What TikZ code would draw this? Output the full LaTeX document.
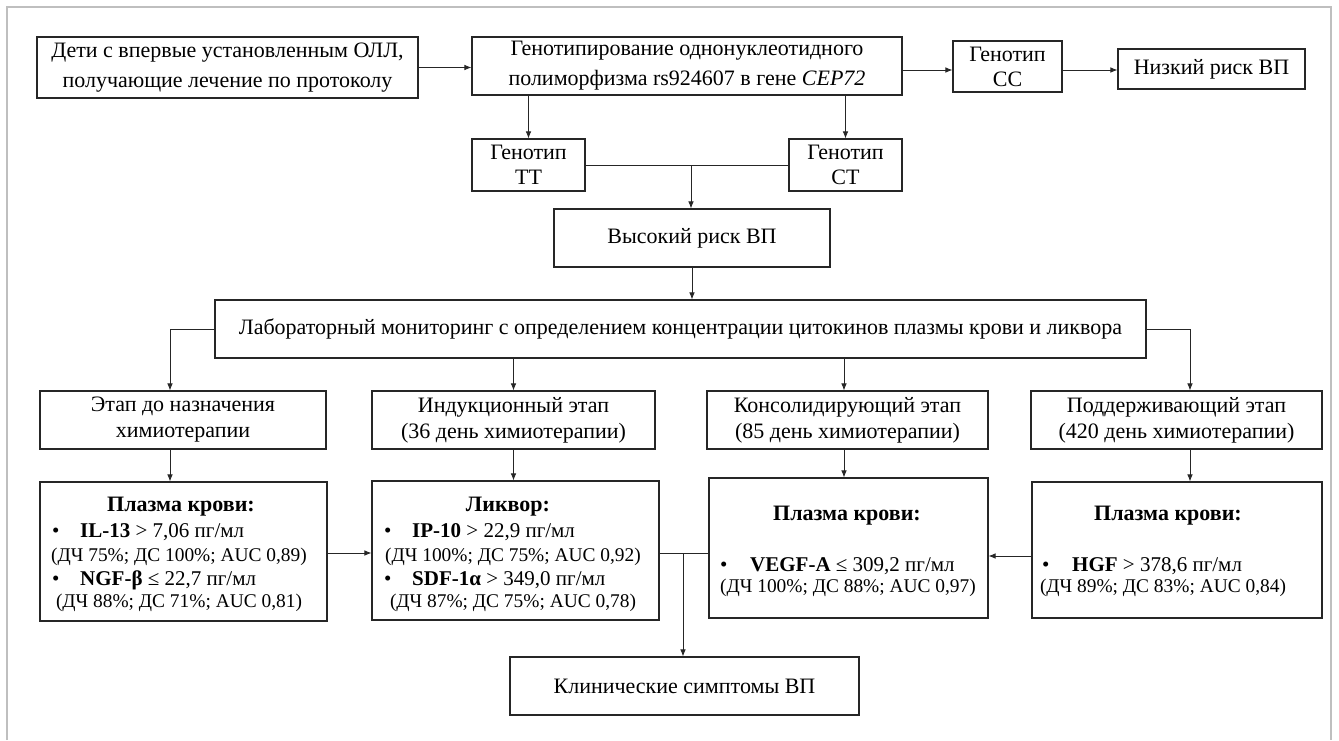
\documentclass[tikz,border=0pt]{standalone}
\usepackage{fontspec}
\setmainfont{Liberation Serif}
\usetikzlibrary{arrows.meta}
\tikzset{
  box/.style={draw=black!85, line width=1.1pt, inner sep=0pt, align=center},
  fa/.style={font=\fontsize{22}{30}\selectfont},
  fb/.style={font=\fontsize{22}{26}\selectfont},
  fc/.style={font=\fontsize{22}{25}\selectfont},
  arr/.style={-{Latex[length=7pt,width=5.5pt]}, line width=0.8pt, draw=black!85},
  ln/.style={line width=0.8pt, draw=black!85},
  dh/.style={inner sep=0pt, font=\fontsize{22}{26}\selectfont},
  dt/.style={inner sep=0pt, font=\fontsize{21}{25}\selectfont},
  dp/.style={inner sep=0pt, font=\fontsize{19.4}{23}\selectfont},
}
\begin{document}
\begin{tikzpicture}[x=1pt,y=-1pt]
\fill[white] (0,0) rectangle (1339,740);
\useasboundingbox (0,0) rectangle (1339,740);
\draw[black!25, line width=1.5pt] (7,740) -- (7,7) -- (1331,7) -- (1331,740);

% top row
\node[box, fa, minimum width=381pt, minimum height=61pt] (b1) at (227.5,67.5)
  {Дети с впервые установленным ОЛЛ,\\получающие лечение по протоколу};
\node[box, fa, minimum width=430pt, minimum height=58pt] (b2) at (687,66)
  {Генотипирование однонуклеотидного\\полиморфизма rs924607 в гене \textit{CEP72}};
\node[box, fc, minimum width=109pt, minimum height=51pt] (cc) at (1007.5,66.5)
  {Генотип\\CC};
\node[box, fc, minimum width=187pt, minimum height=40pt] (nz) at (1211.5,69)
  {Низкий риск ВП};

\node[box, fc, minimum width=113pt, minimum height=52pt] (tt) at (528.5,165)
  {Генотип\\TT};
\node[box, fc, minimum width=113pt, minimum height=52pt] (ct) at (845.5,165)
  {Генотип\\CT};
\node[box, fc, minimum width=276pt, minimum height=58pt] (vr) at (692,238)
  {Высокий риск ВП};
\node[box, fc, minimum width=931pt, minimum height=58pt] (lab) at (680.5,329)
  {Лабораторный мониторинг с определением концентрации цитокинов плазмы крови и ликвора};

% stages
\node[box, fb, minimum width=286pt, minimum height=58pt] (s1) at (183,420)
  {Этап до назначения\\химиотерапии};
\node[box, fb, minimum width=283pt, minimum height=58pt] (s2) at (513.5,420)
  {Индукционный этап\\(36 день химиотерапии)};
\node[box, fb, minimum width=281pt, minimum height=58pt] (s3) at (847.5,420)
  {Консолидирующий этап\\(85 день химиотерапии)};
\node[box, fb, minimum width=291pt, minimum height=58pt] (s4) at (1176.5,420)
  {Поддерживающий этап\\(420 день химиотерапии)};

% detail boxes
\node[box, minimum width=287pt, minimum height=139pt] (d1) at (183.5,551.5) {};
\node[box, minimum width=287pt, minimum height=139pt] (d2) at (515.5,550.5) {};
\node[box, minimum width=279pt, minimum height=140pt] (d3) at (848.5,548) {};
\node[box, minimum width=290pt, minimum height=136pt] (d4) at (1177,550) {};

\node[box, fc, minimum width=349pt, minimum height=58pt] (kl) at (684.5,686)
  {Клинические симптомы ВП};

% detail texts
\node[dh, anchor=base] (d1t) at (181,511) {\textbf{Плазма крови:}};
\node[dt, anchor=base west] (d1u1) at (52,537) {•};
\node[dt, anchor=base west] (d1a) at (80,537) {\textbf{IL-13} > 7,06 пг/мл};
\node[dp, anchor=base] (d1p) at (179,561) {(ДЧ 75\%; ДС 100\%; AUC 0,89)};
\node[dt, anchor=base west] (d1u2) at (52,585) {•};
\node[dt, anchor=base west] (d1b) at (80,585) {\textbf{NGF-β} ≤ 22,7 пг/мл};
\node[dp, anchor=base] (d1q) at (179,607) {(ДЧ 88\%; ДС 71\%; AUC 0,81)};

\node[dh, anchor=base] (d2t) at (508,511) {\textbf{Ликвор:}};
\node[dt, anchor=base west] (d2u1) at (384,537) {•};
\node[dt, anchor=base west] (d2a) at (412,537) {\textbf{IP-10} > 22,9 пг/мл};
\node[dp, anchor=base] (d2p) at (513,561) {(ДЧ 100\%; ДС 75\%; AUC 0,92)};
\node[dt, anchor=base west] (d2u2) at (384,585) {•};
\node[dt, anchor=base west] (d2b) at (412,585) {\textbf{SDF-1α} > 349,0 пг/мл};
\node[dp, anchor=base] (d2q) at (513,607) {(ДЧ 87\%; ДС 75\%; AUC 0,78)};

\node[dh, anchor=base] (d3t) at (847,520) {\textbf{Плазма крови:}};
\node[dt, anchor=base west] (d3u1) at (720,571) {•};
\node[dt, anchor=base west] (d3a) at (750,571) {\textbf{VEGF-A} ≤ 309,2 пг/мл};
\node[dp, anchor=base] (d3p) at (848,592) {(ДЧ 100\%; ДС 88\%; AUC 0,97)};

\node[dh, anchor=base] (d4t) at (1168,520) {\textbf{Плазма крови:}};
\node[dt, anchor=base west] (d4u1) at (1042,571) {•};
\node[dt, anchor=base west] (d4a) at (1072,571) {\textbf{HGF} > 378,6 пг/мл};
\node[dp, anchor=base] (d4p) at (1163,592) {(ДЧ 89\%; ДС 83\%; AUC 0,84)};

% connectors
\coordinate (ya) at (0,70);
\coordinate (c1) at (170,0);
\coordinate (c3) at (844,0);
\coordinate (c4) at (1190,0);
\coordinate (yd) at (0,553);
\coordinate (ye) at (0,556);
\coordinate (j1) at (691,165);
\coordinate (j2) at (683,553);

\draw[arr] (b1.east) -- (b1.east -| b2.west);
\draw[arr] (b2.east |- ya) -- (cc.west |- ya);
\draw[arr] (cc.east |- ya) -- (nz.west |- ya);
\draw[arr] (b2.south -| tt) -- (tt.north);
\draw[arr] (b2.south -| ct) -- (ct.north);
\draw[ln] (tt.east) -- (ct.west);
\draw[arr] (j1) -- (j1 |- vr.north);
\draw[arr] (vr.south) -- (vr.south |- lab.north);
\draw[arr] (lab.west) -| (c1 |- s1.north);
\draw[arr] (lab.south -| s2) -- (s2.north);
\draw[arr] (c3 |- lab.south) -- (c3 |- s3.north);
\draw[arr] (lab.east) -| (c4 |- s4.north);
\draw[arr] (c1 |- s1.south) -- (c1 |- d1.north);
\draw[arr] (s2.south) -- (s2.south |- d2.north);
\draw[arr] (c3 |- s3.south) -- (c3 |- d3.north);
\draw[arr] (c4 |- s4.south) -- (c4 |- d4.north);
\draw[arr] (d1.east |- yd) -- (d2.west |- yd);
\draw[ln] (d2.east |- yd) -- (d3.west |- yd);
\draw[arr] (j2) -- (j2 |- kl.north);
\draw[arr] (d4.west |- ye) -- (d3.east |- ye);
\end{tikzpicture}
\end{document}
